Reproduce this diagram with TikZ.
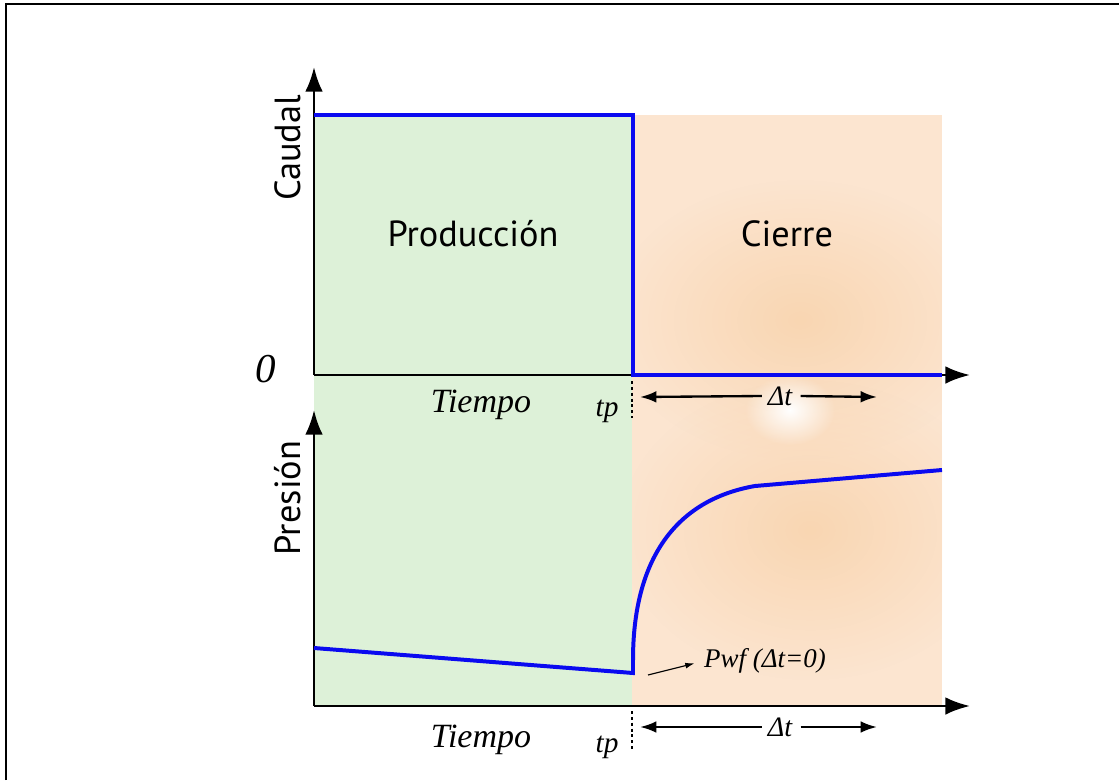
\documentclass[tikz,border=0pt]{standalone}
\usepackage{fontspec}
\setmainfont{Liberation Serif}
\newfontfamily\sansf{PT Sans}
\usetikzlibrary{arrows.meta,fadings}
\definecolor{greenbg}{RGB}{221,241,216}
\definecolor{orangebg}{RGB}{252,229,208}
\definecolor{orangedeep}{RGB}{249,214,178}
\definecolor{blueline}{RGB}{10,10,240}
\tikzfading[name=fuzzy, inner color=transparent!0, outer color=transparent!100]
\tikzset{
  axis/.style={line width=2.2pt, -{Latex[length=21pt,width=15pt]}},
  curve/.style={line width=3.4pt, blueline, line join=miter},
  sanslabel/.style={font=\sansf\fontsize{31}{34}\selectfont, inner sep=0pt},
  itlabel/.style={font=\itshape\fontsize{29}{32}\selectfont, inner sep=0pt},
  smallit/.style={font=\itshape\fontsize{25}{28}\selectfont, inner sep=0pt},
  dtlabel/.style={font=\itshape\fontsize{24}{27}\selectfont, inner sep=0pt},
  dtarrow/.style={line width=2pt, -{Latex[length=14pt,width=10pt]}},
  tpline/.style={line width=1.8pt, dash pattern=on 2.5pt off 2.5pt},
}
\begin{document}
\begin{tikzpicture}[x=0.03cm,y=-0.03cm]
\useasboundingbox (0,0) rectangle (1119,780);
% frame
\draw[line width=2.2pt] (6,780) -- (6,4) -- (1119,4);
% backgrounds
\fill[greenbg] (314,115) rectangle (632,706);
\fill[orangebg] (632,115) rectangle (942,706);
\begin{scope}
  \clip (632,115) rectangle (942,706);
  \fill[orangedeep, path fading=fuzzy] (800,320) ellipse (190 and 140);
  \fill[orangedeep, path fading=fuzzy] (810,530) ellipse (190 and 150);
  \fill[white, path fading=fuzzy] (790,410) ellipse (45 and 35);
\end{scope}
% axes
\coordinate (o1) at (314,375);
\coordinate (y1) at (314,67);
\coordinate (x1) at (970,375);
\coordinate (o2) at (314,706);
\coordinate (y2) at (314,410);
\coordinate (x2) at (970,706);
\draw[axis] (o1) -- (y1);
\draw[axis] (o1) -- (x1);
\draw[axis] (o2) -- (y2);
\draw[axis] (o2) -- (x2);
% rate curve
\draw[curve] (314,115) -- (633,115) -- (633,375) -- (942,375);
% pressure curve
\draw[curve] (314,648) -- (633,673) -- (633,660) .. controls (633,560) and (675,500) .. (755,486) -- (942,470);
% labels
\node[sanslabel, rotate=90] (caudal) at (288,148) {Caudal};
\node[sanslabel, rotate=90] (presion) at (288,498) {Presión};
\node[sanslabel] (prod) at (473,234) {Producción};
\node[sanslabel] (cierre) at (787,234) {Cierre};
\node[font=\itshape\fontsize{35}{38}\selectfont, inner sep=0pt] (zero) at (266,369) {0};
\node[itlabel] (t1) at (481,405) {Tiempo};
\node[itlabel] (t2) at (481,740) {Tiempo};
\node[smallit] (tp1) at (607,411) {tp};
\node[smallit] (tp2) at (607,747) {tp};
\node[dtlabel] (dt1) at (780,396) {Δt};
\node[dtlabel] (dt2) at (780,727) {Δt};
\node[smallit, font=\itshape\fontsize{23}{26}\selectfont, anchor=west] (pwf) at (704,661) {Pwf (Δt=0)};
% tp markers
\coordinate (tpa1) at (632,381);
\coordinate (tpb1) at (632,418);
\coordinate (tpa2) at (632,711);
\coordinate (tpb2) at (632,752);
\draw[tpline] (tpa1) -- (tpb1);
\draw[tpline] (tpa2) -- (tpb2);
% delta t arrows
\coordinate (l1) at (640,397);
\coordinate (r1) at (877,397);
\coordinate (l2) at (640,727);
\coordinate (r2) at (877,727);
\draw[dtarrow] ([xshift=-5pt]dt1.west) -- (l1);
\draw[dtarrow] ([xshift=7pt]dt1.east) -- (r1);
\draw[dtarrow] ([xshift=-5pt]dt2.west) -- (l2);
\draw[dtarrow] ([xshift=7pt]dt2.east) -- (r2);
% pwf arrow
\coordinate (pa) at (648,675);
\draw[line width=1pt, -{Latex[length=8pt,width=5pt]}] (pa) -- ([xshift=-8pt,yshift=-2pt]pwf.west);
\end{tikzpicture}
\end{document}
